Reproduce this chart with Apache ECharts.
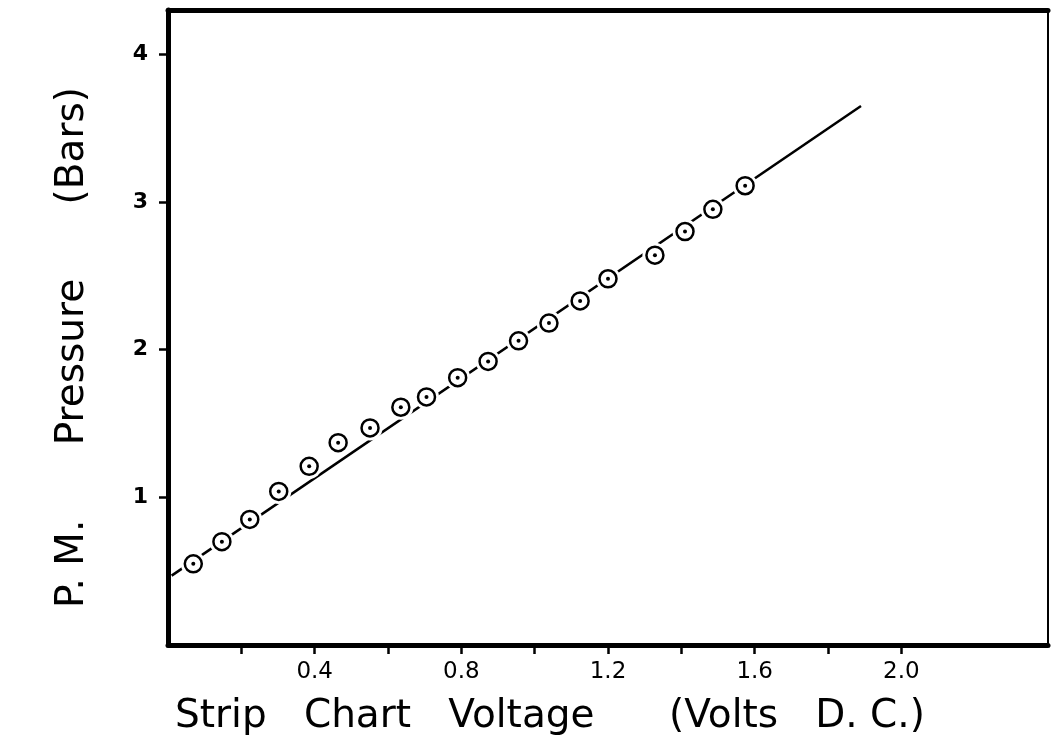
<!DOCTYPE html>
<html>
<head>
<meta charset="utf-8">
<script src="https://cdn.jsdelivr.net/npm/echarts@6/dist/echarts.min.js"></script>
<style>
  html, body { margin: 0; padding: 0; background: #fff; }
  #chart { width: 1051px; height: 750px; }
</style>
</head>
<body>
<div id="chart"></div>
<script>
// measured points (strip chart volts vs P.M. pressure in bars)
var voltage = [0.069, 0.147, 0.223, 0.302, 0.385, 0.464, 0.551, 0.635, 0.705, 0.790,
               0.873, 0.956, 1.039, 1.124, 1.200, 1.328, 1.410, 1.486, 1.574];
var pressure = [0.55, 0.70, 0.85, 1.04, 1.21, 1.37, 1.47, 1.61, 1.68, 1.81,
                1.92, 2.06, 2.18, 2.33, 2.48, 2.64, 2.80, 2.95, 3.11];
// calibration line end points
var fitX = [0.01, 1.89];
var fitY = [0.47, 3.65];
var xTicks = [0.2, 0.4, 0.6, 0.8, 1.0, 1.2, 1.4, 1.6, 1.8, 2.0];
var xLabels = [0.4, 0.8, 1.2, 1.6, 2.0];
var yTicks = [1, 2, 3, 4];

var pts = voltage.map(function (v, i) { return [v, pressure[i]]; });
var fit = fitX.map(function (v, i) { return [v, fitY[i]]; });

var myChart = echarts.init(document.getElementById('chart'));
var font = 'DejaVu Sans';

var option = {
  animation: false,
  backgroundColor: '#fff',
  grid: { left: 168, right: 3, top: 10, bottom: 105 },
  xAxis: [{
    type: 'value',
    min: 0, max: 2.4, interval: 0.2,
    position: 'bottom',
    name: 'Strip   Chart   Voltage      (Volts   D. C.)',
    nameLocation: 'middle',
    nameGap: 52,
    nameTextStyle: { fontFamily: font, fontSize: 39, color: '#000', padding: [0, 116, 0, 0] },
    axisLine: { onZero: false, lineStyle: { color: '#000', width: 5 } },
    axisTick: {
      show: true, inside: false, length: 9,
      customValues: xTicks,
      lineStyle: { color: '#000', width: 2.5 }
    },
    axisLabel: {
      fontFamily: font, fontSize: 23, color: '#000', margin: 16,
      customValues: xLabels,
      formatter: function (v) { return v.toFixed(1); }
    },
    splitLine: { show: false }
  }, {
    type: 'value',
    min: 0, max: 2.4,
    position: 'top',
    axisLine: { onZero: false, lineStyle: { color: '#000', width: 5 } },
    axisTick: { show: false },
    axisLabel: { show: false },
    splitLine: { show: false }
  }],
  yAxis: [{
    type: 'value',
    min: 0, max: 4.3, interval: 1,
    position: 'left',
    name: 'P. M.      Pressure      (Bars)',
    nameLocation: 'middle',
    nameGap: 76,
    nameRotate: 90,
    nameTextStyle: { fontFamily: font, fontSize: 39, color: '#000', padding: [0, 40, 0, 0] },
    axisLine: { onZero: false, lineStyle: { color: '#000', width: 5 } },
    axisTick: {
      show: true, inside: false, length: 9,
      customValues: yTicks,
      lineStyle: { color: '#000', width: 2.5 }
    },
    axisLabel: {
      fontFamily: font, fontSize: 22, fontWeight: 'bold', color: '#000', margin: 20,
      customValues: yTicks
    },
    splitLine: { show: false }
  }, {
    type: 'value',
    min: 0, max: 4.3,
    position: 'right',
    axisLine: { show: true, onZero: false, lineStyle: { color: '#000', width: 2 } },
    axisTick: { show: false },
    axisLabel: { show: false },
    splitLine: { show: false }
  }],
  series: [
    {
      type: 'line',
      data: fit,
      symbol: 'none',
      lineStyle: { color: '#000', width: 2.5 },
      silent: true,
      z: 1
    },
    {
      // white halo leaves a gap where the line meets each circle
      type: 'scatter',
      data: pts,
      symbol: 'circle',
      symbolSize: 25,
      itemStyle: { color: '#fff', opacity: 1 },
      silent: true,
      z: 2
    },
    {
      type: 'scatter',
      data: pts,
      symbol: 'circle',
      symbolSize: 17,
      itemStyle: { color: '#fff', borderColor: '#000', borderWidth: 2.5, opacity: 1 },
      silent: true,
      z: 3
    },
    {
      type: 'scatter',
      data: pts,
      symbol: 'circle',
      symbolSize: 4,
      itemStyle: { color: '#000', opacity: 1 },
      silent: true,
      z: 4
    }
  ]
};

myChart.setOption(option);
window.addEventListener('resize', function () {
  myChart.resize();
});
</script>
</body>
</html>
